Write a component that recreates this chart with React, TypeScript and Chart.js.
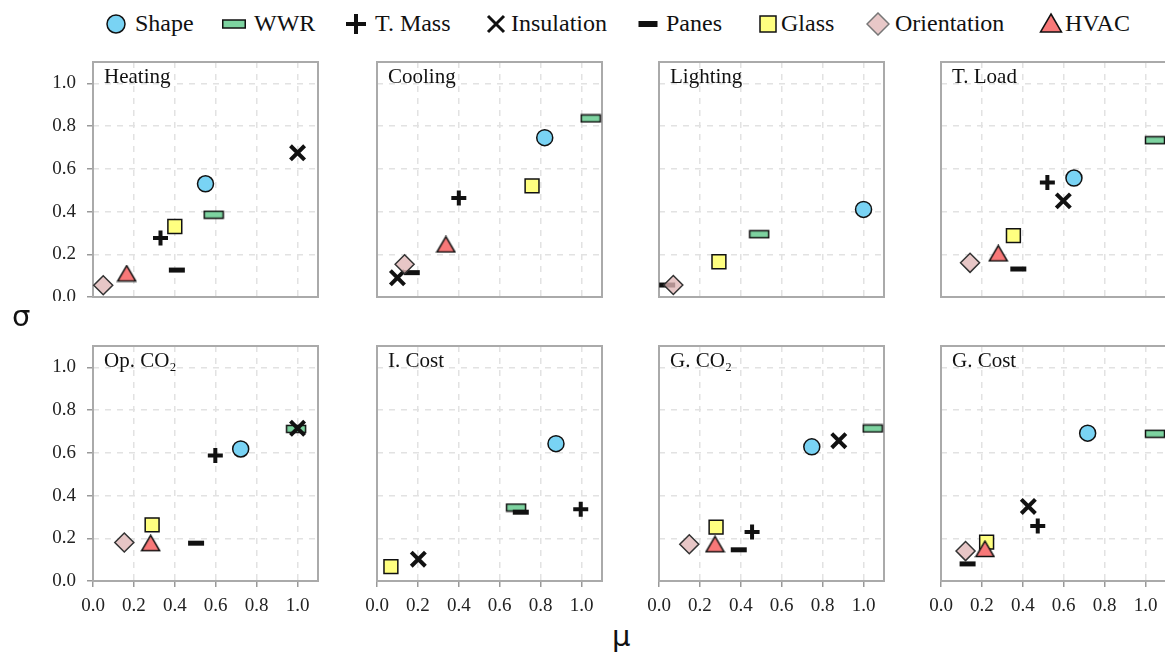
import React, { useEffect, useRef } from "react";
import { Chart, registerables } from "chart.js";

Chart.register(...registerables);

// ---------- DATA ----------
const FACTORS = ["Shape", "WWR", "T. Mass", "Insulation", "Panes", "Glass", "Orientation", "HVAC"];
const PANEL_TITLES = ["Heating", "Cooling", "Lighting", "T. Load", "Op. CO₂", "I. Cost", "G. CO₂", "G. Cost"];
const TICK_VALUES = [0, 0.2, 0.4, 0.6, 0.8, 1.0];
const AXIS_MIN = 0;
const AXIS_MAX = 1.1;

// μ (x) and σ (y) for each factor, in FACTORS order (null = not shown)
const HEATING_MU = [0.55, 0.59, 0.33, 1.0, 0.41, 0.4, 0.05, 0.165];
const HEATING_SIGMA = [0.53, 0.385, 0.276, 0.675, 0.126, 0.33, 0.055, 0.11];
const COOLING_MU = [0.82, 1.045, 0.4, 0.1, 0.17, 0.758, 0.135, 0.337];
const COOLING_SIGMA = [0.746, 0.836, 0.463, 0.09, 0.114, 0.52, 0.153, 0.246];
const LIGHTING_MU = [1.0, 0.49, null, null, 0.04, 0.293, 0.07, null];
const LIGHTING_SIGMA = [0.41, 0.294, null, null, 0.056, 0.165, 0.056, null];
const TLOAD_MU = [0.65, 1.046, 0.52, 0.598, 0.378, 0.354, 0.142, 0.28];
const TLOAD_SIGMA = [0.557, 0.734, 0.536, 0.45, 0.131, 0.287, 0.16, 0.204];
const OPCO2_MU = [0.722, 0.993, 0.598, 1.0, 0.504, 0.289, 0.153, 0.282];
const OPCO2_SIGMA = [0.618, 0.712, 0.587, 0.715, 0.177, 0.263, 0.18, 0.177];
const ICOST_MU = [0.875, 0.68, 0.996, 0.202, 0.703, 0.068, null, null];
const ICOST_SIGMA = [0.643, 0.344, 0.336, 0.102, 0.322, 0.067, null, null];
const GCO2_MU = [0.747, 1.045, 0.455, 0.879, 0.39, 0.279, 0.148, 0.274];
const GCO2_SIGMA = [0.628, 0.714, 0.229, 0.657, 0.146, 0.252, 0.172, 0.172];
const GCOST_MU = [0.717, 1.046, 0.473, 0.427, 0.13, 0.223, 0.12, 0.215];
const GCOST_SIGMA = [0.692, 0.689, 0.258, 0.349, 0.08, 0.182, 0.14, 0.15];

const PANEL_MU = [HEATING_MU, COOLING_MU, LIGHTING_MU, TLOAD_MU, OPCO2_MU, ICOST_MU, GCO2_MU, GCOST_MU];
const PANEL_SIGMA = [HEATING_SIGMA, COOLING_SIGMA, LIGHTING_SIGMA, TLOAD_SIGMA, OPCO2_SIGMA, ICOST_SIGMA, GCO2_SIGMA, GCOST_SIGMA];

// ---------- STYLE / LAYOUT ----------
const SERIF = "'Liberation Serif', 'Times New Roman', Times, serif";
const SANS = "'DejaVu Sans', sans-serif";
const COL_LEFT = [93, 377, 659, 941];
const ROW_TOP = [62, 346];
const PLOT_W = 225;
const PLOT_H = 235;

const C_SHAPE = "#79d3f4";
const C_WWR = "#7dd3a0";
const C_GLASS = "#ffff80";
const C_ORIENT = "rgba(224,182,182,0.78)";
const C_HVAC = "#f87878";
const C_EDGE = "#111";

Chart.defaults.font.family = SERIF;

function makeIcon(w: number, h: number, draw: (ctx: CanvasRenderingContext2D) => void) {
  const c = document.createElement("canvas");
  c.width = w;
  c.height = h;
  const ctx = c.getContext("2d")!;
  draw(ctx);
  return c;
}

function buildStyles() {
  const wwr = makeIcon(22, 10, (ctx) => {
    ctx.fillStyle = C_WWR;
    ctx.strokeStyle = C_EDGE;
    ctx.lineWidth = 1.5;
    ctx.fillRect(1.5, 1.5, 19, 7);
    ctx.strokeRect(1.5, 1.5, 19, 7);
  });
  const tri = makeIcon(21, 18, (ctx) => {
    ctx.fillStyle = C_HVAC;
    ctx.strokeStyle = C_EDGE;
    ctx.lineWidth = 1.5;
    ctx.lineJoin = "miter";
    ctx.beginPath();
    ctx.moveTo(10.5, 1.2);
    ctx.lineTo(1.5, 16.5);
    ctx.lineTo(19.5, 16.5);
    ctx.closePath();
    ctx.fill();
    ctx.stroke();
  });
  return [
    { style: "circle", radius: 8, fill: C_SHAPE, stroke: C_EDGE, bw: 1.5 },
    { style: wwr, radius: 9, fill: C_WWR, stroke: C_EDGE, bw: 0 },
    { style: "cross", radius: 7.5, fill: C_EDGE, stroke: C_EDGE, bw: 4 },
    { style: "crossRot", radius: 10, fill: C_EDGE, stroke: C_EDGE, bw: 4 },
    { style: "line", radius: 8, fill: C_EDGE, stroke: C_EDGE, bw: 5 },
    { style: "rect", radius: 9.8, fill: C_GLASS, stroke: C_EDGE, bw: 1.5 },
    { style: "rectRot", radius: 9.5, fill: C_ORIENT, stroke: "#333", bw: 1.5 },
    { style: tri, radius: 9, fill: C_HVAC, stroke: C_EDGE, bw: 0 },
  ];
}

const framePlugin = {
  id: "frame",
  beforeDatasetsDraw(chart: any) {
    const { ctx, chartArea: a } = chart;
    ctx.save();
    ctx.strokeStyle = "#aaaaaa";
    ctx.lineWidth = 2;
    ctx.strokeRect(a.left, a.top, a.right - a.left, a.bottom - a.top);
    ctx.restore();
  },
};

function Panel({ idx }: { idx: number }) {
  const ref = useRef<HTMLCanvasElement | null>(null);
  const col = idx % 4;
  const row = Math.floor(idx / 4);
  const padL = col === 0 ? 84 : 22;
  const padB = row === 1 ? 44 : 4;
  const padT = 4;
  const padR = 4;
  const W = padL + PLOT_W + padR;
  const H = padT + PLOT_H + padB;

  useEffect(() => {
    const styles = buildStyles();
    const mu = PANEL_MU[idx];
    const sigma = PANEL_SIGMA[idx];
    const datasets = FACTORS.map((name, i) => ({
      label: name,
      data: mu[i] == null ? [] : [{ x: mu[i] as number, y: sigma[i] as number }],
      pointStyle: styles[i].style as any,
      pointRadius: styles[i].radius,
      pointBackgroundColor: styles[i].fill,
      pointBorderColor: styles[i].stroke,
      pointBorderWidth: styles[i].bw,
      showLine: false,
      order: FACTORS.length - i,
      clip: false as any,
    }));
    const zeroPad = (s: any) => {
      s.paddingLeft = 0;
      s.paddingRight = 0;
      s.paddingTop = 0;
      s.paddingBottom = 0;
    };
    const chart = new Chart(ref.current!, {
      type: "scatter",
      data: { datasets },
      plugins: [framePlugin],
      options: {
        animation: false,
        responsive: false,
        devicePixelRatio: 1,
        events: [],
        layout: { autoPadding: false, padding: { left: 0, right: padR, top: padT, bottom: 0 } },
        plugins: { legend: { display: false }, tooltip: { enabled: false }, title: { display: false } },
        scales: {
          x: {
            type: "linear",
            min: AXIS_MIN,
            max: AXIS_MAX,
            afterBuildTicks: (s: any) => {
              s.ticks = TICK_VALUES.map((v) => ({ value: v }));
            },
            afterFit: (s: any) => {
              s.height = padB;
              zeroPad(s);
            },
            ticks: {
              display: row === 1,
              autoSkip: false,
              maxRotation: 0,
              padding: 8,
              color: "#222",
              font: { family: SERIF, size: 19 },
              callback: (v: any) => Number(v).toFixed(1),
            },
            grid: {
              color: "#e2e2e2",
              lineWidth: 1.5,
              drawTicks: row === 1,
              tickLength: 6,
              tickColor: "#999",
              tickWidth: 1.5,
            },
            border: { display: false, dash: [6, 6] },
          },
          y: {
            type: "linear",
            min: AXIS_MIN,
            max: AXIS_MAX,
            afterBuildTicks: (s: any) => {
              s.ticks = TICK_VALUES.map((v) => ({ value: v }));
            },
            afterFit: (s: any) => {
              s.width = padL;
              zeroPad(s);
            },
            ticks: {
              display: col === 0,
              autoSkip: false,
              padding: 11,
              color: "#222",
              font: { family: SERIF, size: 19 },
              callback: (v: any) => Number(v).toFixed(1),
            },
            grid: {
              color: "#e2e2e2",
              lineWidth: 1.5,
              drawTicks: col === 0,
              tickLength: 6,
              tickColor: "#999",
              tickWidth: 1.5,
            },
            border: { display: false, dash: [6, 6] },
          },
        },
      } as any,
    });
    return () => chart.destroy();
  }, [idx]);

  const left = COL_LEFT[col] - padL;
  const top = ROW_TOP[row] - padT;
  return (
    <>
      <canvas
        ref={ref}
        width={W}
        height={H}
        style={{ position: "absolute", left, top, width: W, height: H }}
      />
      <div
        style={{
          position: "absolute",
          left: COL_LEFT[col] + 11,
          top: ROW_TOP[row] + 4,
          fontFamily: SERIF,
          fontSize: 21,
          lineHeight: "21px",
          color: "#111",
          whiteSpace: "nowrap",
        }}
      >
        {PANEL_TITLES[idx]}
      </div>
    </>
  );
}

function LegendIcon({ i }: { i: number }) {
  const s = 24;
  const c = 12;
  let shape: any = null;
  switch (i) {
    case 0:
      shape = <circle cx={c} cy={c} r={9} fill={C_SHAPE} stroke={C_EDGE} strokeWidth={1.5} />;
      break;
    case 1:
      shape = <rect x={0.75} y={c - 4} width={22.5} height={8} fill={C_WWR} stroke={C_EDGE} strokeWidth={1.5} />;
      break;
    case 2:
      shape = (
        <path d={`M${c} ${c - 10} V${c + 10} M${c - 10} ${c} H${c + 10}`} stroke={C_EDGE} strokeWidth={4} />
      );
      break;
    case 3:
      shape = (
        <path d={`M${c - 8} ${c - 8} L${c + 8} ${c + 8} M${c + 8} ${c - 8} L${c - 8} ${c + 8}`} stroke={C_EDGE} strokeWidth={3} />
      );
      break;
    case 4:
      shape = <rect x={c - 9.5} y={c - 3} width={19} height={6} fill={C_EDGE} />;
      break;
    case 5:
      shape = <rect x={c - 8} y={c - 8} width={16} height={16} fill={C_GLASS} stroke={C_EDGE} strokeWidth={1.5} />;
      break;
    case 6:
      shape = (
        <path d={`M${c} ${c - 11} L${c + 11} ${c} L${c} ${c + 11} L${c - 11} ${c} Z`} fill="#e8c8c8" stroke="#777" strokeWidth={1.5} />
      );
      break;
    case 7:
      shape = (
        <path d={`M${c} ${c - 10} L${c + 10.5} ${c + 8} L${c - 10.5} ${c + 8} Z`} fill={C_HVAC} stroke={C_EDGE} strokeWidth={1.5} />
      );
      break;
  }
  return (
    <svg width={s} height={s} viewBox={`0 0 ${s} ${s}`} style={{ display: "block" }}>
      {shape}
    </svg>
  );
}

const LEGEND_ICON_X = [116, 234, 356, 496, 648, 768, 878, 1051];
const LEGEND_TEXT_X = [135, 254, 375, 511, 666, 781, 895, 1065];

export default function App() {
  return (
    <div
      style={{
        position: "fixed",
        left: 0,
        top: 0,
        width: 1165,
        height: 654,
        background: "#fff",
        overflow: "hidden",
      }}
    >
      {FACTORS.map((name, i) => (
        <React.Fragment key={name}>
          <div style={{ position: "absolute", left: LEGEND_ICON_X[i] - 12, top: 12 }}>
            <LegendIcon i={i} />
          </div>
          <div
            style={{
              position: "absolute",
              left: LEGEND_TEXT_X[i],
              top: 11,
              fontFamily: SERIF,
              fontSize: 24,
              lineHeight: "24px",
              color: "#111",
              whiteSpace: "nowrap",
            }}
          >
            {name}
          </div>
        </React.Fragment>
      ))}
      {PANEL_TITLES.map((t, i) => (
        <Panel key={t} idx={i} />
      ))}
      <div
        style={{
          position: "absolute",
          left: 12,
          top: 302,
          fontFamily: SANS,
          fontSize: 29,
          lineHeight: "29px",
          color: "#111",
        }}
      >
        σ
      </div>
      <div
        style={{
          position: "absolute",
          left: 612,
          top: 622,
          fontFamily: SANS,
          fontSize: 29,
          lineHeight: "29px",
          color: "#111",
        }}
      >
        μ
      </div>
    </div>
  );
}
